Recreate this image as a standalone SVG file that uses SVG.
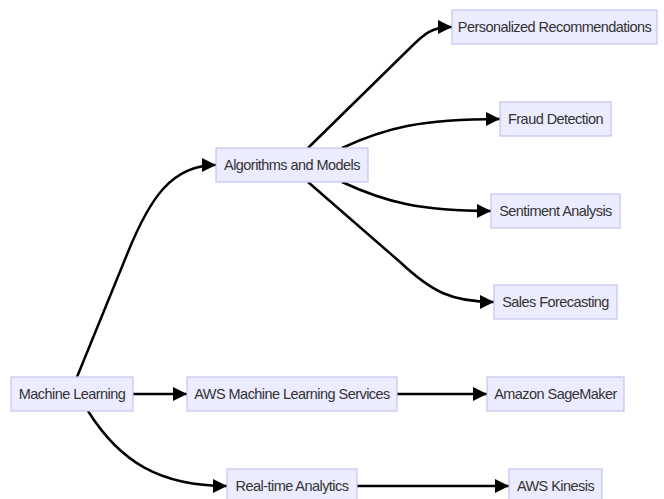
<svg xmlns="http://www.w3.org/2000/svg" width="664" height="499" viewBox="0 0 664 499">
<style>
.node rect{fill:#ECECFF;stroke:#C3C3F2;stroke-width:1.2}
.node text{font-family:"Liberation Sans",Arial,sans-serif;font-size:14.5px;fill:#333;text-anchor:middle;dominant-baseline:central;letter-spacing:-0.55px}
.edge{fill:none;stroke:#000;stroke-width:2.5;marker-end:url(#arrow)}
</style>
<defs>
<marker id="arrow" viewBox="0 0 14 14" refX="14" refY="7" markerWidth="14" markerHeight="14" markerUnits="userSpaceOnUse" orient="auto">
<path d="M0,0 L14,7 L0,14 z" fill="#000"/>
</marker>
</defs>
<rect width="664" height="499" fill="#fff"/>
<g id="edges">
<path class="edge" d="M77,377 L128,252 C150,198 172,165 216,165"/>
<path class="edge" d="M308,148 L410,48 C425,33 432,27 452,27"/>
<path class="edge" d="M342,148 C385,128 420,119 500,119"/>
<path class="edge" d="M342,182 C385,202 420,211 491,211"/>
<path class="edge" d="M308,182 L400,262 C432,292 452,302 494,302"/>
<path class="edge" d="M133,394 L187,394"/>
<path class="edge" d="M397,394 L487,394"/>
<path class="edge" d="M88,411 C120,462 160,486 227,486"/>
<path class="edge" d="M357,486 L509,486"/>
</g>
<g id="n-pr" class="node"><rect x="452" y="10" width="205" height="34"/><text x="554.5" y="27">Personalized Recommendations</text></g>
<g id="n-fd" class="node"><rect x="500" y="102" width="111" height="34"/><text x="555.5" y="119">Fraud Detection</text></g>
<g id="n-am" class="node"><rect x="216" y="148" width="152" height="34"/><text x="292" y="165">Algorithms and Models</text></g>
<g id="n-sa" class="node"><rect x="491" y="194" width="129" height="34"/><text x="555.5" y="211">Sentiment Analysis</text></g>
<g id="n-sf" class="node"><rect x="494" y="285" width="123" height="34"/><text x="555.5" y="302">Sales Forecasting</text></g>
<g id="n-ml" class="node"><rect x="11" y="377" width="122" height="34"/><text x="72" y="394">Machine Learning</text></g>
<g id="n-aws" class="node"><rect x="187" y="377" width="210" height="34"/><text x="292" y="394">AWS Machine Learning Services</text></g>
<g id="n-sm" class="node"><rect x="487" y="377" width="137" height="34"/><text x="555.5" y="394">Amazon SageMaker</text></g>
<g id="n-rt" class="node"><rect x="227" y="469" width="130" height="34"/><text x="292" y="486">Real-time Analytics</text></g>
<g id="n-ak" class="node"><rect x="509" y="469" width="93" height="34"/><text x="555.5" y="486">AWS Kinesis</text></g>
</svg>
